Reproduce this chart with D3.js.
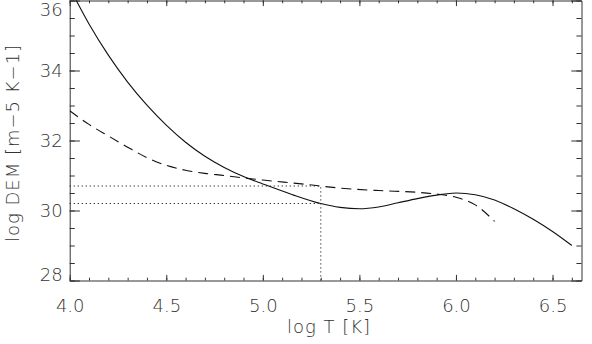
<!DOCTYPE html>
<html>
<head>
<meta charset="utf-8">
<script src="https://cdn.jsdelivr.net/npm/d3@7"></script>
<style>
  body { margin: 0; background: #fff; }
  text { font-family: "DejaVu Sans", sans-serif; font-weight: 200; fill: #333; }
</style>
</head>
<body>
<div id="chart-area"></div>
<script>
// solid curve (log T, log DEM)
const solidT   = [4.0, 4.1, 4.2, 4.3, 4.4, 4.5, 4.6, 4.7, 4.8, 4.9, 5.0, 5.15, 5.3, 5.4, 5.5, 5.6, 5.7, 5.8, 5.9, 6.0, 6.1, 6.2, 6.3, 6.4, 6.5, 6.6];
const solidDEM = [36.36, 35.33, 34.44, 33.67, 33.01, 32.44, 31.95, 31.55, 31.23, 30.97, 30.76, 30.46, 30.2, 30.09, 30.05, 30.1, 30.22, 30.34, 30.44, 30.5, 30.45, 30.3, 30.05, 29.75, 29.4, 29.0];
// dashed curve
const dashT   = [4.0, 4.1, 4.2, 4.3, 4.4, 4.5, 4.6, 4.7, 4.8, 4.9, 5.0, 5.2, 5.4, 5.6, 5.8, 5.9, 6.0, 6.1, 6.2];
const dashDEM = [32.85, 32.46, 32.13, 31.81, 31.51, 31.29, 31.15, 31.06, 31.0, 30.93, 30.87, 30.76, 30.64, 30.57, 30.52, 30.47, 30.38, 30.16, 29.69];
// dotted guide lines
const guideT = 5.3;
const guideDEM = [30.7, 30.2];

const xTicks = [4.0, 4.5, 5.0, 5.5, 6.0, 6.5];
const yTicks = [28, 30, 32, 34, 36];

const W = 592, H = 344;
const MARGIN = {left: 69.7, right: 10.5, top: 0.5, bottom: 63.5};

const svg = d3.select("#chart-area").append("svg")
    .attr("width", W)
    .attr("height", H);

const x = d3.scaleLinear().domain([4.0, 6.65]).range([MARGIN.left, W - MARGIN.right]);
const y = d3.scaleLinear().domain([28, 36]).range([H - MARGIN.bottom, MARGIN.top]);

const plot = svg.append("g");

// clip the curves to the frame
svg.append("clipPath").attr("id", "clip")
  .append("rect")
  .attr("x", x(4.0)).attr("y", y(36))
  .attr("width", x(6.65) - x(4.0)).attr("height", y(28) - y(36));

// ---- axes (IDL style box with ticks on all four sides) ----
const xMajLen = 5.6, xMinLen = 2.8, yMajLen = 10.2, yMinLen = 5.1;
const axisCol = "#333";

function addAxis(makeAxis, transform, size, minorSize, ticks, minorTicks, fmt, showLabels) {
  const gMin = plot.append("g").attr("transform", transform)
    .call(makeAxis().tickValues(minorTicks).tickSize(minorSize).tickFormat(""));
  gMin.select(".domain").remove();
  gMin.selectAll("line").attr("stroke", axisCol);
  const g = plot.append("g").attr("transform", transform)
    .call(makeAxis().tickValues(ticks).tickSize(size).tickSizeOuter(0).tickFormat(fmt).tickPadding(0));
  g.select(".domain").attr("stroke", axisCol);
  g.selectAll("line").attr("stroke", axisCol);
  g.attr("font-family", null).attr("font-size", null);
  g.selectAll("text").style("font-size", "18px").attr("fill", "#333");
  if (!showLabels) g.selectAll("text").remove();
  return g;
}

const xMinor = d3.range(40, 67, 1).map(d => d / 10);
const yMinor = d3.range(56, 73, 1).map(d => d / 2);

// bottom
const gb = addAxis(() => d3.axisTop(x), `translate(0,${y(28)})`, xMajLen, xMinLen, xTicks, xMinor, d3.format(".1f"), true);
gb.selectAll("text").attr("y", 31).attr("dy", "0");
// top
addAxis(() => d3.axisBottom(x), `translate(0,${y(36)})`, xMajLen, xMinLen, xTicks, xMinor, d3.format(".1f"), false);
// left: labels at the ends are nudged inside like IDL does
const gl = addAxis(() => d3.axisRight(y), `translate(${x(4.0)},0)`, yMajLen, yMinLen, yTicks, yMinor, d3.format("d"), true);
gl.selectAll("text")
  .attr("x", -7).attr("text-anchor", "end").attr("dy", "0.36em")
  .attr("y", d => d === 36 ? 9 : (d === 28 ? -6 : 0));
// right
addAxis(() => d3.axisLeft(y), `translate(${x(6.65)},0)`, yMajLen, yMinLen, yTicks, yMinor, d3.format("d"), false);

// ---- curves ----
const line = d3.line().x(d => x(d[0])).y(d => y(d[1])).curve(d3.curveMonotoneX);

plot.append("path")
    .datum(solidT.map((t, i) => [t, solidDEM[i]]))
    .attr("clip-path", "url(#clip)")
    .attr("d", line)
    .attr("fill", "none")
    .attr("stroke", "#111")
    .attr("stroke-width", 1.1);

plot.append("path")
    .datum(dashT.map((t, i) => [t, dashDEM[i]]))
    .attr("clip-path", "url(#clip)")
    .attr("d", line)
    .attr("fill", "none")
    .attr("stroke", "#111")
    .attr("stroke-width", 1.1)
    .attr("stroke-dasharray", "10,6");

// dotted guides
guideDEM.forEach(v => {
  plot.append("line")
    .attr("x1", x(4.0)).attr("x2", x(guideT))
    .attr("y1", y(v)).attr("y2", y(v))
    .attr("stroke", "#222").attr("stroke-dasharray", "1.2,2.8");
});
plot.append("line")
  .attr("x1", x(guideT)).attr("x2", x(guideT))
  .attr("y1", y(28)).attr("y2", y(d3.max(guideDEM)))
  .attr("stroke", "#222").attr("stroke-dasharray", "1.2,2.8");

// ---- axis titles ----
svg.append("text")
  .attr("x", 329).attr("y", 333)
  .attr("text-anchor", "middle")
  .style("font-size", "18px")
  .style("letter-spacing", "1px")
  .text("log T [K]");

svg.append("text")
  .attr("transform", "translate(19,143) rotate(-90)")
  .attr("text-anchor", "middle")
  .style("font-size", "18px")
  .style("letter-spacing", "1px")
  .text("log DEM [m\u22125 K\u22121]");
</script>
</body>
</html>
